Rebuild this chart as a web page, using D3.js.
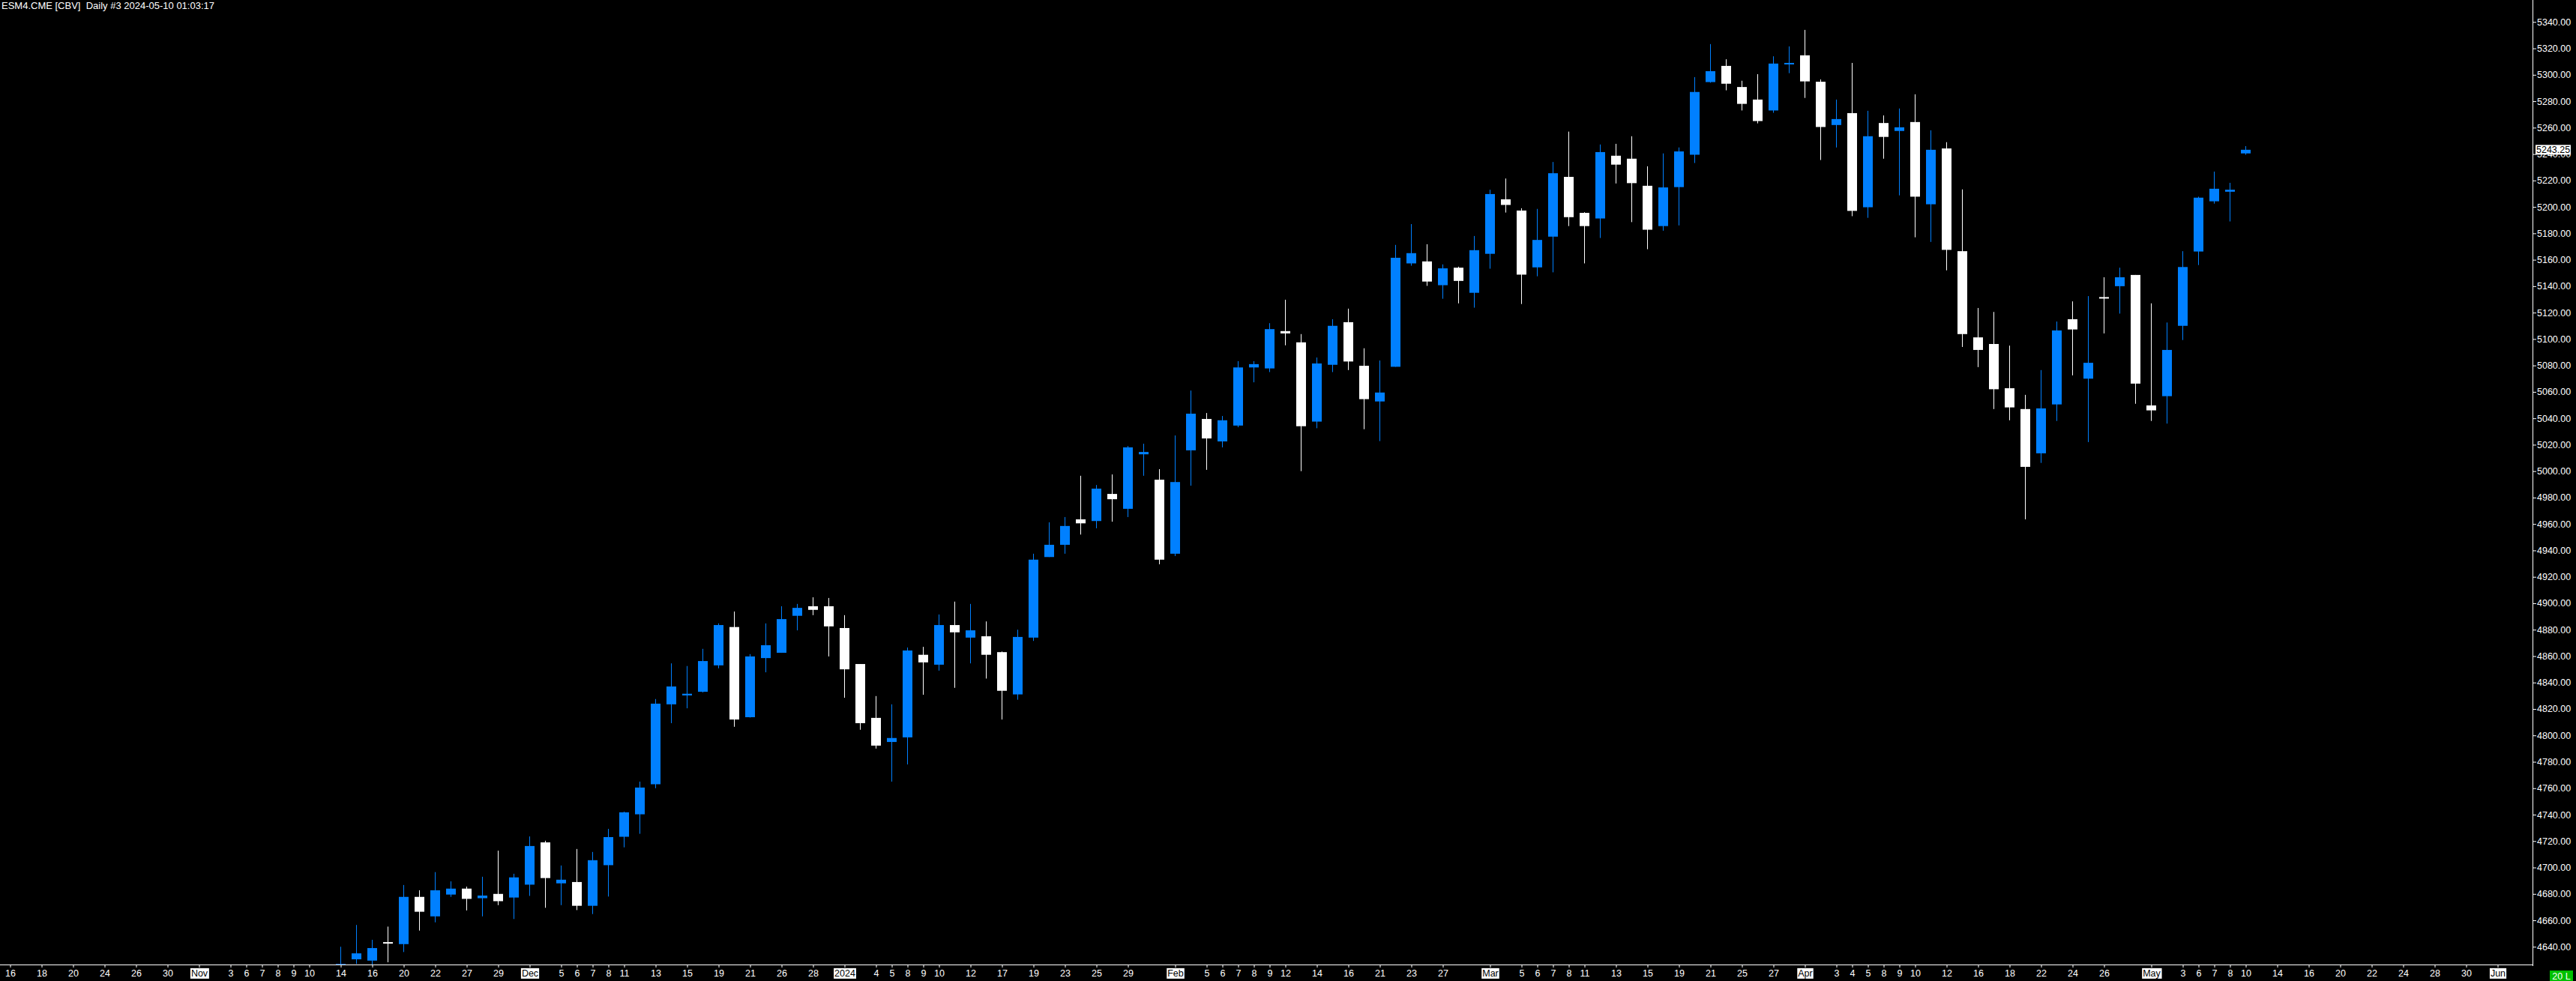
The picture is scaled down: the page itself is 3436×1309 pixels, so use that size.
<!DOCTYPE html>
<html>
<head>
<meta charset="utf-8">
<script src="https://cdn.jsdelivr.net/npm/d3@7"></script>
<style>
  html, body { margin: 0; padding: 0; background: #000; }
  svg { display: block; }
  text { font-family: "Liberation Sans", Arial, sans-serif; }
</style>
</head>
<body>
<div id="chart"></div>
<script>
// ---------------- DATA ----------------
const titleText = "ESM4.CME [CBV]  Daily #3 2024-05-10 01:03:17";
const axisStart = "2023-10-16";
const axisEnd = "2024-06-05";
// weekdays without a bar slot on the chart's axis
const skippedDays = ["2023-11-23","2023-12-25","2024-01-01","2024-01-15","2024-02-19","2024-03-29","2024-05-09"];

const dates = [
"2023-11-14","2023-11-15","2023-11-16","2023-11-17","2023-11-20","2023-11-21","2023-11-22","2023-11-24","2023-11-27","2023-11-28","2023-11-29","2023-11-30",
"2023-12-01","2023-12-04","2023-12-05","2023-12-06","2023-12-07","2023-12-08","2023-12-11","2023-12-12","2023-12-13","2023-12-14","2023-12-15","2023-12-18","2023-12-19","2023-12-20","2023-12-21","2023-12-22","2023-12-26","2023-12-27","2023-12-28","2023-12-29",
"2024-01-02","2024-01-03","2024-01-04","2024-01-05","2024-01-08","2024-01-09","2024-01-10","2024-01-11","2024-01-12","2024-01-16","2024-01-17","2024-01-18","2024-01-19","2024-01-22","2024-01-23","2024-01-24","2024-01-25","2024-01-26","2024-01-29","2024-01-30","2024-01-31",
"2024-02-01","2024-02-02","2024-02-05","2024-02-06","2024-02-07","2024-02-08","2024-02-09","2024-02-12","2024-02-13","2024-02-14","2024-02-15","2024-02-16","2024-02-20","2024-02-21","2024-02-22","2024-02-23","2024-02-26","2024-02-27","2024-02-28","2024-02-29",
"2024-03-01","2024-03-04","2024-03-05","2024-03-06","2024-03-07","2024-03-08","2024-03-11","2024-03-12","2024-03-13","2024-03-14","2024-03-15","2024-03-18","2024-03-19","2024-03-20","2024-03-21","2024-03-22","2024-03-25","2024-03-26","2024-03-27","2024-03-28",
"2024-04-01","2024-04-02","2024-04-03","2024-04-04","2024-04-05","2024-04-08","2024-04-09","2024-04-10","2024-04-11","2024-04-12","2024-04-15","2024-04-16","2024-04-17","2024-04-18","2024-04-19","2024-04-22","2024-04-23","2024-04-24","2024-04-25","2024-04-26","2024-04-29","2024-04-30",
"2024-05-01","2024-05-02","2024-05-03","2024-05-06","2024-05-07","2024-05-08","2024-05-10"
];
const opens = [
4545,4630.5,4629.5,4643.5,4642,4677.75,4663,4679.5,4684,4676.75,4680,4677.25,
4687,4719,4688,4689,4671,4701.75,4723.25,4740.25,4763,4823.5,4830.25,4833,4853,4882,4813.75,4858.5,4862.5,4890.5,4897.75,4897.75,
4881.25,4854,4813.25,4795,4798.5,4861,4853.5,4883.5,4874,4875,4863,4831,4874,4935,4944.25,4963.5,4962.25,4982.75,4971.5,5012.75,4993.5,
4937.5,5015.75,5039.5,5022.5,5034.5,5078.5,5077.75,5106,5097.5,5037.5,5080.5,5112.75,5079.75,5052.75,5079,5157.25,5158.75,5140.75,5154,5135,
5164.5,5205.75,5197.25,5154.25,5177.5,5222.75,5195.5,5191.25,5238.75,5236.5,5216,5185.5,5215,5239.5,5294.5,5306.75,5290.75,5281.25,5273,5308,
5314.75,5294.75,5262,5271,5199.75,5263.5,5257.5,5264.25,5202,5244.25,5166.5,5101.25,5096.25,5062.75,5047,5013.5,5050.5,5115,5070,5131.75,5140,5148.5,
5049.75,5056.75,5110,5166.25,5204.25,5211.5,5240.5
];
const highs = [
4640,4656.5,4645.25,4655.25,4686.75,4682.75,4696.5,4689.5,4685.5,4693,4712.75,4695.25,
4723.5,4720.25,4701.5,4714,4711.75,4729.25,4742.25,4765,4827.5,4854.5,4852.5,4865.5,4884.75,4893.75,4861.5,4884.75,4897.75,4899.5,4904.5,4904,
4891,4854,4829.75,4823.5,4866.5,4867,4891.5,4901.25,4899.5,4886.25,4863.5,4880,4937.5,4961.25,4965.25,4996.5,4989.5,4997.5,5019,5020.75,5001.5,
5027,5061,5044,5041.75,5083.25,5083.25,5112,5129.75,5103.75,5086,5115,5123,5093,5083.75,5171.25,5187,5171.75,5156.5,5154.75,5178,
5213,5221.5,5199,5198.5,5234,5257,5196,5247.25,5247.75,5253.5,5230.75,5240.5,5245,5298.25,5323.25,5311.75,5295.5,5300.5,5314,5321.5,
5334,5296.5,5281.25,5309,5272.75,5269.25,5274.5,5285.25,5258,5249,5213.25,5123.5,5120.5,5095,5057.75,5076.5,5113.25,5128.5,5132.5,5146.75,5154,5148.5,
5127,5112.5,5166.5,5207.75,5226.75,5218.25,5246
];
const lows = [
4540,4627,4624,4628.25,4636,4652.25,4658.5,4677.75,4667.5,4663,4671.5,4661,
4678.5,4669.5,4671.5,4667.75,4664.75,4678,4715.25,4725.5,4760,4809.25,4820.5,4832.5,4850.75,4806.5,4813.5,4847.75,4862.5,4879.5,4891,4859.75,
4828.5,4804.25,4790,4765,4778,4830.75,4849,4836,4854.5,4843,4812,4827,4871.5,4935,4937.5,4952,4956.75,4961.75,4965.25,4996.5,4929.5,
4935.75,4989,5001,5018,5033.25,5067.25,5075,5095.25,5000,5032.5,5075,5076.5,5031.75,5022.75,5079,5155.5,5140.25,5130.5,5127,5123.75,
5153.25,5195.75,5126.5,5147.5,5150.5,5185.5,5157.25,5176.5,5217.75,5188.5,5168,5182,5186,5233.25,5294,5288.25,5273,5263.25,5271.25,5301.25,
5282.5,5235.5,5245,5193,5191.75,5236.5,5208.75,5177,5173.5,5152,5094,5078.75,5047,5038.5,4963.5,5006.25,5038,5072.5,5022,5104.25,5119.25,5051,
5038,5036,5099.25,5156,5202.5,5189,5239.5
];
const closes = [
4627,4635,4639,4643,4677.75,4666.5,4682.75,4684,4676.25,4678.75,4674.5,4692.5,
4716.25,4692,4690.75,4671,4705.5,4723,4741.75,4760.5,4824,4837,4831.5,4856.25,4883.5,4812,4859.75,4868.25,4888,4896.5,4895,4882.5,
4850,4809.25,4792.25,4798,4864.25,4855.25,4883.5,4878,4879.5,4861,4833.75,4874.5,4933,4944.25,4958.5,4960.5,4986.75,4978.75,5018,5014.5,4933,
4991.75,5043.5,5024.75,5038.5,5078.5,5081,5107.5,5104.25,5034,5081.5,5110,5083,5054.5,5059.5,5161.5,5165,5143.5,5153.5,5144,5167.25,
5209.75,5201.5,5148.75,5175,5225.5,5192.25,5185.5,5241.5,5232,5218,5182.75,5214.75,5242,5287,5302.75,5293.25,5278,5265,5308.5,5309,
5295,5260.5,5266.5,5197,5253.5,5253,5260.25,5207.75,5243.25,5167.5,5103.75,5091.75,5062,5048.25,5003.25,5047.5,5106.5,5107.25,5082,5130.75,5146.75,5066.25,
5046,5091.75,5154.5,5207,5213.75,5213,5243.25
];
const priceTicks = d3.range(4640, 5341, 20);
const dateTicks = [
"2023-10-16","2023-10-18","2023-10-20","2023-10-24","2023-10-26","2023-10-30",
"2023-11-01","2023-11-03","2023-11-06","2023-11-07","2023-11-08","2023-11-09","2023-11-10","2023-11-14","2023-11-16","2023-11-20","2023-11-22","2023-11-27","2023-11-29",
"2023-12-01","2023-12-05","2023-12-06","2023-12-07","2023-12-08","2023-12-11","2023-12-13","2023-12-15","2023-12-19","2023-12-21","2023-12-26","2023-12-28",
"2024-01-02","2024-01-04","2024-01-05","2024-01-08","2024-01-09","2024-01-10","2024-01-12","2024-01-17","2024-01-19","2024-01-23","2024-01-25","2024-01-29",
"2024-02-01","2024-02-05","2024-02-06","2024-02-07","2024-02-08","2024-02-09","2024-02-12","2024-02-14","2024-02-16","2024-02-21","2024-02-23","2024-02-27",
"2024-03-01","2024-03-05","2024-03-06","2024-03-07","2024-03-08","2024-03-11","2024-03-13","2024-03-15","2024-03-19","2024-03-21","2024-03-25","2024-03-27",
"2024-04-01","2024-04-03","2024-04-04","2024-04-05","2024-04-08","2024-04-09","2024-04-10","2024-04-12","2024-04-16","2024-04-18","2024-04-22","2024-04-24","2024-04-26",
"2024-05-01","2024-05-03","2024-05-06","2024-05-07","2024-05-08","2024-05-10","2024-05-14","2024-05-16","2024-05-20","2024-05-22","2024-05-24","2024-05-28","2024-05-30",
"2024-06-03"
];
const monthNames = ["Jan","Feb","Mar","Apr","May","Jun","Jul","Aug","Sep","Oct","Nov","Dec"];
const cornerBadge = "20 L";

// ---------------- LAYOUT ----------------
const W = 3436, H = 1309;
const plotRight = 3378, plotBottom = 1288;
const slotStep = 21, firstSlotX = 13;
const upColor = "#0080ff", downColor = "#ffffff";

// axis slots: weekdays minus skipped days
const fmt = d3.utcFormat("%Y-%m-%d");
const slots = d3.utcDay.range(new Date(axisStart + "T00:00:00Z"), d3.utcDay.offset(new Date(axisEnd + "T00:00:00Z"), 1))
  .filter(d => d.getUTCDay() !== 0 && d.getUTCDay() !== 6)
  .map(fmt)
  .filter(s => !skippedDays.includes(s));

const x = d3.scalePoint().domain(slots).range([firstSlotX, firstSlotX + slotStep * (slots.length - 1)]);
const y = d3.scaleLinear().domain([4640, 5340]).range([1263.3, 29.3]);

const svg = d3.select("#chart").append("svg")
  .attr("width", W).attr("height", H)
  .style("background", "#000");

svg.append("rect").attr("width", W).attr("height", H).attr("fill", "#000");

svg.append("defs").append("clipPath").attr("id", "plotClip")
  .append("rect").attr("x", 0).attr("y", 0).attr("width", plotRight).attr("height", plotBottom);

const candles = dates.map((d, i) => ({ d, o: opens[i], h: highs[i], l: lows[i], c: closes[i] }));

const g = svg.append("g").attr("clip-path", "url(#plotClip)");
const cg = g.selectAll("g.candle").data(candles).join("g").attr("class", "candle");
cg.append("rect")
  .attr("x", d => Math.round(x(d.d)))
  .attr("width", 1)
  .attr("y", d => y(d.h))
  .attr("height", d => Math.max(1, y(d.l) - y(d.h)))
  .attr("fill", d => d.c >= d.o ? upColor : downColor);
cg.append("rect")
  .attr("x", d => Math.round(x(d.d)) - 6)
  .attr("width", 13)
  .attr("y", d => y(Math.max(d.o, d.c)))
  .attr("height", d => Math.max(2, y(Math.min(d.o, d.c)) - y(Math.max(d.o, d.c))))
  .attr("fill", d => d.c >= d.o ? upColor : downColor);

// axis lines
svg.append("line").attr("x1", plotRight + 0.5).attr("x2", plotRight + 0.5).attr("y1", 0).attr("y2", plotBottom + 1)
  .attr("stroke", "#fff").attr("stroke-width", 1);
svg.append("line").attr("x1", 0).attr("x2", plotRight + 1).attr("y1", plotBottom - 0.5).attr("y2", plotBottom - 0.5)
  .attr("stroke", "#fff").attr("stroke-width", 1);

// right price axis
const yAxis = d3.axisRight(y).tickValues(priceTicks).tickFormat(d3.format(".2f")).tickSize(4).tickPadding(1);
const ya = svg.append("g").attr("transform", `translate(${plotRight + 1},0)`).call(yAxis);
ya.select(".domain").remove();
ya.selectAll("line").attr("stroke", "#fff");
ya.selectAll("text").attr("fill", "#fff").style("font-size", "12.5px").style("font-family", "'Liberation Sans', Arial, sans-serif");

// last price marker
const last = candles[candles.length - 1];
const lp = svg.append("g").attr("transform", `translate(${plotRight + 4},${y(last.c)})`);
lp.append("rect").attr("x", 0).attr("y", -6.5).attr("width", 47).attr("height", 13).attr("fill", "#fff");
lp.append("text").attr("x", 1).attr("y", 0).attr("dy", "0.36em").attr("fill", "#000")
  .style("font-size", "12.5px").text(d3.format(".2f")(last.c));

// bottom date axis
const isMonthStart = s => {
  const i = slots.indexOf(s);
  return i === 0 ? false : slots[i - 1].slice(0, 7) !== s.slice(0, 7);
};
const dateLabel = s => {
  if (isMonthStart(s)) {
    const m = +s.slice(5, 7);
    return m === 1 ? s.slice(0, 4) : monthNames[m - 1];
  }
  return String(+s.slice(8, 10));
};
const xAxis = d3.axisBottom(x).tickValues(dateTicks).tickFormat(dateLabel).tickSize(3).tickPadding(3);
const xa = svg.append("g").attr("transform", `translate(0.5,${plotBottom})`).call(xAxis);
xa.select(".domain").remove();
xa.selectAll("line").attr("stroke", "#fff");
xa.selectAll("text").attr("fill", "#fff").style("font-size", "12.5px").style("font-family", "'Liberation Sans', Arial, sans-serif");
xa.selectAll(".tick").each(function(s) {
  if (!isMonthStart(s)) return;
  const t = d3.select(this).select("text");
  t.attr("fill", "#000");
  const bb = t.node().getBBox();
  d3.select(this).insert("rect", "text")
    .attr("x", bb.x - 1).attr("y", bb.y)
    .attr("width", bb.width + 2).attr("height", bb.height)
    .attr("fill", "#fff");
});

// corner badge
const badge = svg.append("g").attr("transform", `translate(3401,1295)`);
badge.append("rect").attr("width", 31).attr("height", 14).attr("fill", "#00c000");
badge.append("text").attr("x", 15.5).attr("y", 7).attr("dy", "0.36em").attr("text-anchor", "middle")
  .attr("fill", "#fff").style("font-size", "12.5px").text(cornerBadge);

// title
svg.append("text").attr("x", 2).attr("y", 12).attr("fill", "#fff")
  .style("font-size", "13px").style("white-space", "pre").text(titleText);
</script>
</body>
</html>
